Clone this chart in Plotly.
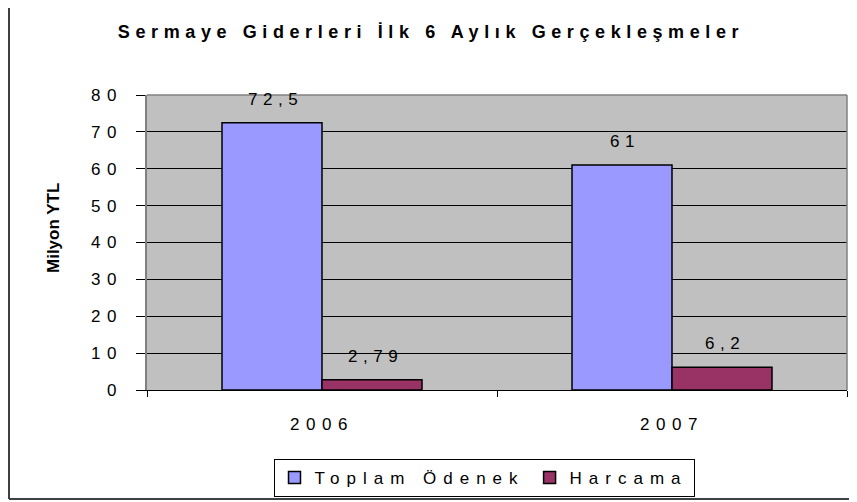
import plotly.graph_objects as go

# ---- data ----
years = ["2006", "2007"]
toplam_odenek = [72.5, 61]
harcama = [2.79, 6.2]
series_names = ["Toplam Ödenek", "Harcama"]
y_ticks = [0, 10, 20, 30, 40, 50, 60, 70, 80]
title_text = "Sermaye Giderleri İlk 6 Aylık Gerçekleşmeler"
y_title = "Milyon YTL"

# page has an 8px body margin, so the figure is drawn 8px in from the corner
OFF = 8
W, H = 857 - OFF, 502 - OFF
L, R, T, B = 147 - OFF, 10, 95 - OFF, 112
PW, PH = W - L - R, H - T - B

FONT = "Liberation Sans, Arial, sans-serif"
LS = "6.5px"


def sp(s, ls=LS):
    return f'<span style="letter-spacing:{ls}">{s}</span>'


def fmt(v):
    return ("%g" % v).replace(".", ",")


def px_x(px):  # page pixel -> paper x
    return (px - OFF - L) / PW


def px_y(py):  # page pixel -> paper y
    return (T + PH - (py - OFF)) / PH


fig = go.Figure()
colors = ["#9999FF", "#993366"]
for name, vals, col in zip(series_names, [toplam_odenek, harcama], colors):
    fig.add_trace(go.Bar(
        x=years, y=vals, name=sp(name, "7px"),
        marker=dict(color=col, line=dict(color="black", width=1.5)),
    ))

annotations = []
for i, vals in enumerate([toplam_odenek, harcama]):
    shift = -50 if i == 0 else 50
    for j, v in enumerate(vals):
        annotations.append(dict(
            x=j, y=v, xref="x", yref="y", text=sp(fmt(v), "5.5px"),
            showarrow=False, xshift=shift + 3, yshift=12, yanchor="bottom",
            font=dict(family=FONT, size=17, color="black"),
        ))

annotations.append(dict(
    x=px_x(53), y=px_y(228), xref="paper", yref="paper",
    xanchor="center", yanchor="middle",
    text=f"<b>{y_title}</b>", textangle=-90, showarrow=False,
    font=dict(family=FONT, size=17, color="black"),
))

shapes = [
    dict(type="line", xref="paper", yref="paper", x0=0, x1=1, y0=1, y1=1,
         line=dict(color="#808080", width=1.5)),
    dict(type="line", xref="paper", yref="paper", x0=1, x1=1, y0=0, y1=1,
         line=dict(color="#808080", width=1.5)),
    # outer chart frame (left and bottom edges visible)
    dict(type="line", xref="paper", yref="paper",
         x0=px_x(9), x1=px_x(9), y0=px_y(499), y1=px_y(0),
         line=dict(color="#404040", width=2), layer="below"),
    dict(type="line", xref="paper", yref="paper",
         x0=px_x(9), x1=px_x(870), y0=px_y(499), y1=px_y(499),
         line=dict(color="#404040", width=2), layer="below"),
]

fig.update_layout(
    width=W, height=H,
    margin=dict(l=L, r=R, t=T, b=B, autoexpand=False),
    paper_bgcolor="white",
    plot_bgcolor="#C0C0C0",
    font=dict(family=FONT, size=17, color="black"),
    title=dict(text=f"<b>{sp(title_text, '5.6px')}</b>", x=(431 - OFF) / W,
               xanchor="center", xref="container",
               y=1 - (32 - OFF) / H, yanchor="middle", yref="container",
               font=dict(family=FONT, size=18, color="black")),
    barmode="group", bargap=150 / 350, bargroupgap=0,
    showlegend=True,
    legend=dict(orientation="h", x=px_x(484), xanchor="center",
                y=px_y(459), yanchor="top",
                bordercolor="black", borderwidth=1, bgcolor="white",
                font=dict(family=FONT, size=17, color="black"),
                itemwidth=30, traceorder="normal"),
    annotations=annotations,
    shapes=shapes,
)

fig.update_xaxes(
    type="category", range=[-0.5, 1.5],
    tickvals=years, ticktext=[sp(y) for y in years], tickangle=0,
    tickson="boundaries", ticks="outside", ticklen=6, tickcolor="black",
    showline=True, linecolor="black", linewidth=1, showgrid=False,
    ticklabelstandoff=19, automargin=False,
    tickfont=dict(family=FONT, size=17, color="black"),
)
fig.update_yaxes(
    range=[0, 80], tickvals=y_ticks, ticktext=[sp(str(t)) for t in y_ticks],
    ticks="outside", ticklen=9, tickcolor="black",
    showgrid=True, gridcolor="black", gridwidth=1,
    showline=True, linecolor="#808080", linewidth=1.5, zeroline=False,
    ticklabelstandoff=10, automargin=False,
    tickfont=dict(family=FONT, size=17, color="black"),
)

fig.write_html("out.html")
